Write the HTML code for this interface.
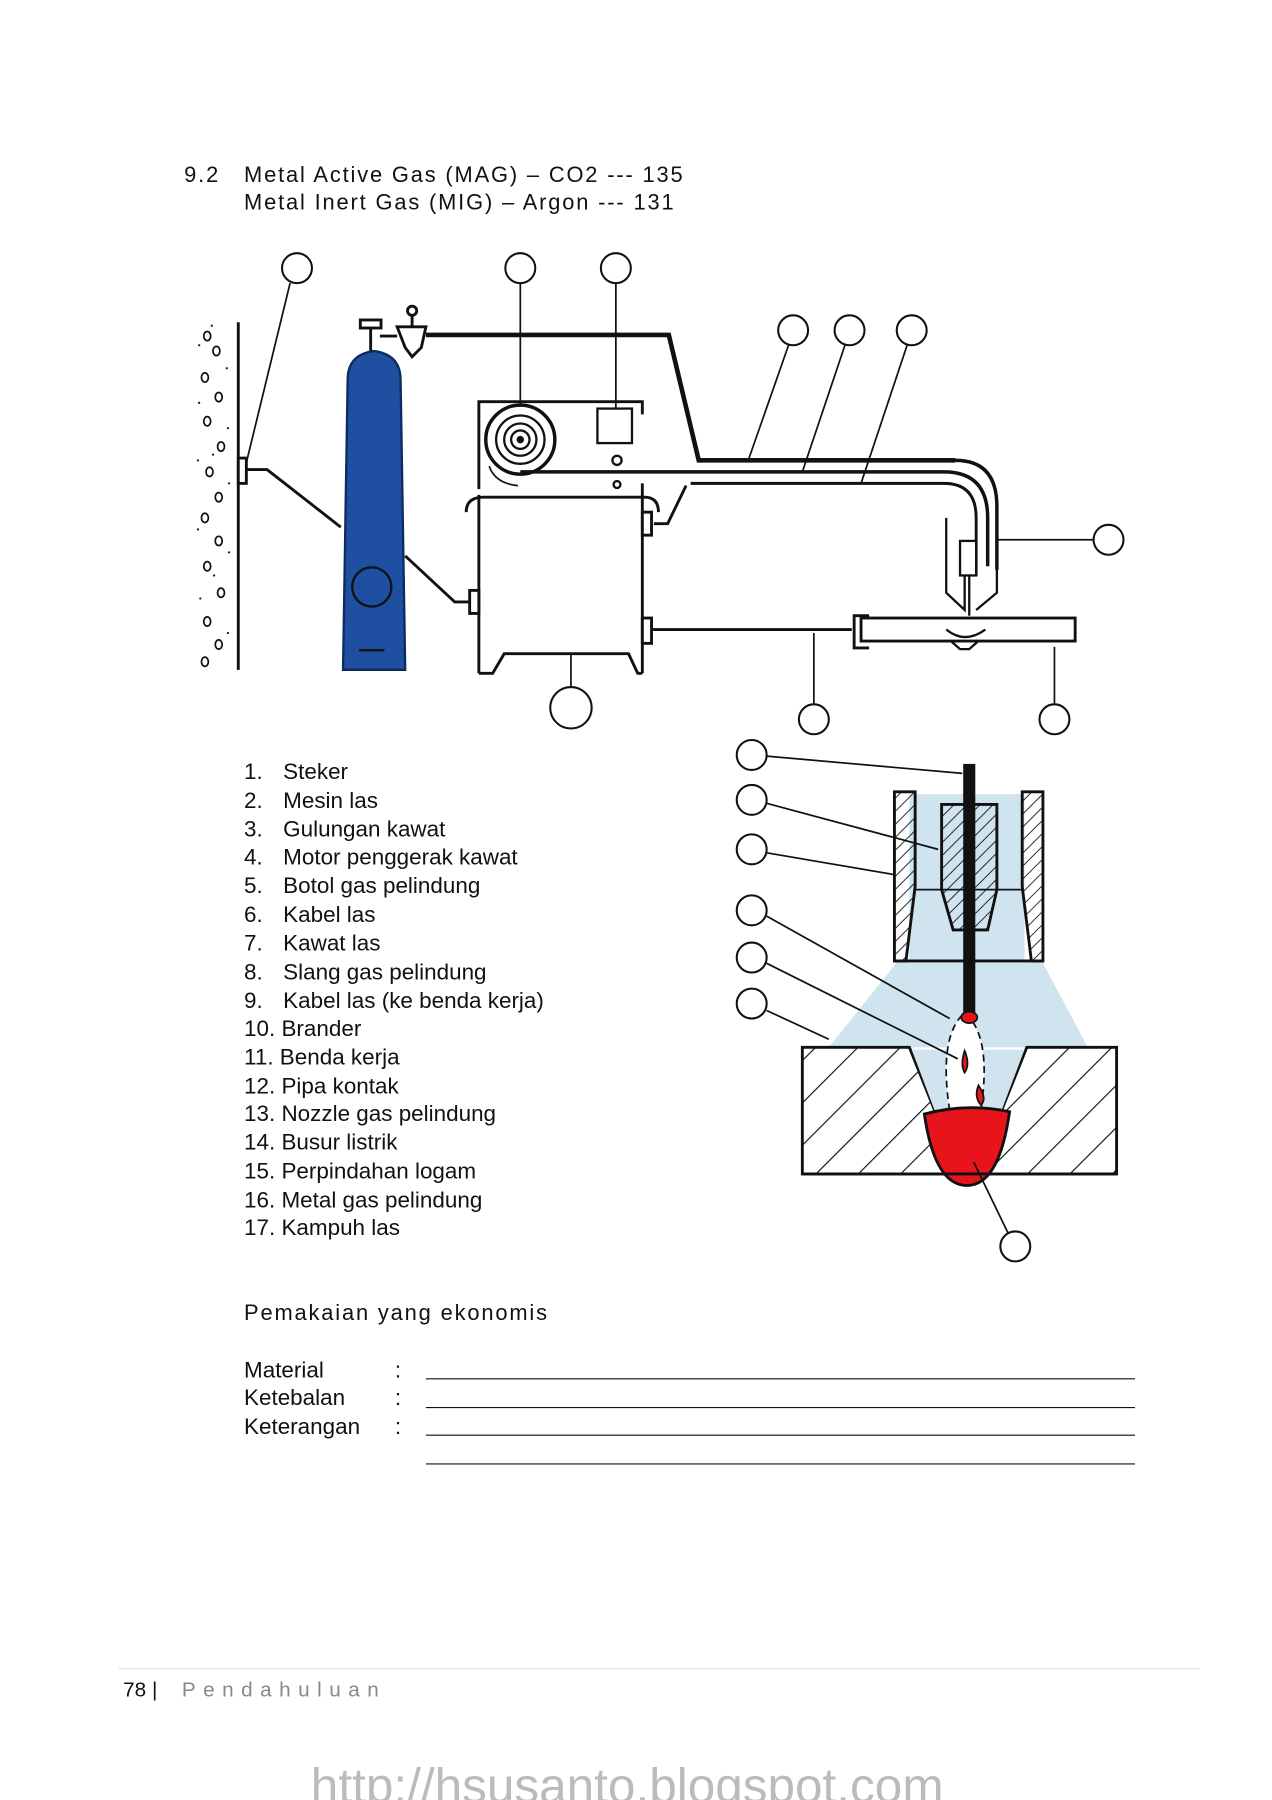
<!DOCTYPE html>
<html><head><meta charset="utf-8"><style>
html,body{margin:0;padding:0;background:#fff;}
svg{display:block;}
text{font-family:"Liberation Sans",sans-serif;fill:#111;}
</style></head><body>
<svg width="1272" height="1800" viewBox="0 0 1105 1564" preserveAspectRatio="none" xmlns="http://www.w3.org/2000/svg">
<defs>
<pattern id="h2" width="8" height="8" patternUnits="userSpaceOnUse" patternTransform="rotate(45)"><line x1="0" y1="0" x2="0" y2="8" stroke="#111" stroke-width="1.5"/></pattern>
<pattern id="h3" width="26" height="26" patternUnits="userSpaceOnUse" patternTransform="rotate(45)"><line x1="0" y1="0" x2="0" y2="26" stroke="#111" stroke-width="2"/></pattern>
</defs>

<text x="160" y="158" font-size="19" letter-spacing="1.6">9.2</text>
<text x="212" y="158" font-size="19" letter-spacing="1.6">Metal Active Gas (MAG) – CO2 --- 135</text>
<text x="212" y="182" font-size="19" letter-spacing="1.6">Metal Inert Gas (MIG) – Argon --- 131</text>

<g stroke="#111" fill="none" stroke-width="2.5">
<line x1="207" y1="280" x2="207" y2="582"/>
<g stroke-width="1.5">
<ellipse cx="180" cy="292" rx="3" ry="4"/><ellipse cx="188" cy="305" rx="3" ry="4"/><ellipse cx="178" cy="328" rx="3" ry="4"/><ellipse cx="190" cy="345" rx="3" ry="4"/><ellipse cx="180" cy="366" rx="3" ry="4"/><ellipse cx="192" cy="388" rx="3" ry="4"/><ellipse cx="182" cy="410" rx="3" ry="4"/><ellipse cx="190" cy="432" rx="3" ry="4"/><ellipse cx="178" cy="450" rx="3" ry="4"/><ellipse cx="190" cy="470" rx="3" ry="4"/><ellipse cx="180" cy="492" rx="3" ry="4"/><ellipse cx="192" cy="515" rx="3" ry="4"/><ellipse cx="180" cy="540" rx="3" ry="4"/><ellipse cx="190" cy="560" rx="3" ry="4"/><ellipse cx="178" cy="575" rx="3" ry="4"/>
</g>
<g fill="#222" stroke="none">
<circle cx="173" cy="300" r="1"/><circle cx="197" cy="320" r="1"/><circle cx="173" cy="350" r="1"/><circle cx="198" cy="372" r="1"/><circle cx="172" cy="400" r="1"/><circle cx="199" cy="420" r="1"/><circle cx="172" cy="460" r="1"/><circle cx="199" cy="480" r="1"/><circle cx="174" cy="520" r="1"/><circle cx="198" cy="550" r="1"/><circle cx="185" cy="395" r="1"/><circle cx="186" cy="500" r="1"/><circle cx="184" cy="283" r="1"/>
</g>
<rect x="207" y="398" width="7" height="22" fill="#fff"/>
<polyline points="214,408 232,408 296,458"/>
<path d="M298,582 L302,330 Q302,308 325,305 Q348,308 348,330 L352,582 Z" fill="#1f4fa0" stroke="#0d2a60" stroke-width="2"/>
<circle cx="323" cy="510" r="17" stroke="#111" stroke-width="2"/>
<line x1="312" y1="565" x2="334" y2="565" stroke-width="2"/>
<rect x="313" y="278" width="18" height="7" fill="#fff"/>
<line x1="322" y1="285" x2="322" y2="305"/>
<line x1="330" y1="292" x2="345" y2="292"/>
<path d="M345,284 L370,284 L366,302 L358,310 L352,302 Z" fill="#fff"/>
<circle cx="358" cy="270" r="4"/><line x1="358" y1="274" x2="358" y2="284"/>
<polyline points="370,291 581,291 607,400 830,400" stroke-width="4"/>
<polyline points="416,425 416,349 558,349 558,360"/>
<line x1="416" y1="430" x2="416" y2="585"/>
<line x1="558" y1="420" x2="558" y2="585"/>
<path d="M405,445 Q405,432 420,432 L560,432 Q572,432 572,445"/>
<polyline points="416,585 428,585 438,568 546,568 554,585 558,585"/>
<circle cx="452" cy="382" r="30" stroke-width="3"/>
<circle cx="452" cy="382" r="21" stroke-width="2"/>
<circle cx="452" cy="382" r="14" stroke-width="2"/>
<circle cx="452" cy="382" r="8" stroke-width="2"/>
<circle cx="452" cy="382" r="2" fill="#111"/>
<path d="M425,405 Q430,420 450,422" stroke-width="1.5"/>
<rect x="519" y="355" width="30" height="30" stroke-width="2"/>
<circle cx="536" cy="400" r="4" stroke-width="2"/>
<circle cx="536" cy="421" r="3" stroke-width="2"/>
<path d="M452,410 L820,410 Q858,410 858,450 L858,492" stroke-width="3"/>
<path d="M600,420 L820,420 Q848,420 848,450 L848,500" stroke-width="2.5"/>
<path d="M596,422 L580,455 L568,455" stroke-width="2.5"/>
<path d="M830,400 Q866,400 866,440 L866,495" stroke-width="3"/>
<rect x="558" y="445" width="8" height="20" fill="#fff"/>
<path d="M822,450 L822,515 L838,530 L838,488 M866,450 L866,515 L848,530" stroke-width="2"/>
<line x1="842" y1="500" x2="842" y2="535" stroke-width="2"/>
<rect x="834" y="470" width="14" height="30" fill="#fff" stroke-width="2"/>
<polyline points="352,483 395,523 410,523"/>
<rect x="408" y="513" width="8" height="20" fill="#fff"/>
<rect x="558" y="537" width="8" height="22" fill="#fff"/>
<line x1="566" y1="547" x2="740" y2="547"/>
<path d="M755,535 L742,535 L742,563 L755,563"/>
<rect x="748" y="537" width="186" height="20" fill="#fff"/>
<path d="M822,547 Q838,560 856,547" stroke-width="2"/>
<path d="M826,557 L834,564 L842,564 L850,557" stroke-width="2"/>
<g stroke-width="1.5">
<line x1="252" y1="246" x2="214" y2="402"/>
<line x1="452" y1="246" x2="452" y2="352"/>
<line x1="535" y1="246" x2="535" y2="355"/>
<line x1="685" y1="300" x2="650" y2="400"/>
<line x1="734" y1="300" x2="697" y2="410"/>
<line x1="788" y1="300" x2="748" y2="420"/>
<line x1="866" y1="469" x2="950" y2="469"/>
<line x1="496" y1="568" x2="496" y2="597"/>
<line x1="707" y1="550" x2="707" y2="612"/>
<line x1="916" y1="562" x2="916" y2="612"/>
</g>
<g stroke-width="1.8" fill="#fff">
<circle cx="258" cy="233" r="13"/><circle cx="452" cy="233" r="13"/><circle cx="535" cy="233" r="13"/>
<circle cx="689" cy="287" r="13"/><circle cx="738" cy="287" r="13"/><circle cx="792" cy="287" r="13"/>
<circle cx="963" cy="469" r="13"/><circle cx="496" cy="615" r="18"/>
<circle cx="707" cy="625" r="13"/><circle cx="916" cy="625" r="13"/>
</g>
</g>

<g font-size="19.5">
<text x="212" y="677">1.</text><text x="246" y="677">Steker</text>
<text x="212" y="702">2.</text><text x="246" y="702">Mesin las</text>
<text x="212" y="727">3.</text><text x="246" y="727">Gulungan kawat</text>
<text x="212" y="751">4.</text><text x="246" y="751">Motor penggerak kawat</text>
<text x="212" y="776">5.</text><text x="246" y="776">Botol gas pelindung</text>
<text x="212" y="801">6.</text><text x="246" y="801">Kabel las</text>
<text x="212" y="826">7.</text><text x="246" y="826">Kawat las</text>
<text x="212" y="851">8.</text><text x="246" y="851">Slang gas pelindung</text>
<text x="212" y="876">9.</text><text x="246" y="876">Kabel las (ke benda kerja)</text>
<text x="212" y="900">10. Brander</text>
<text x="212" y="925">11. Benda kerja</text>
<text x="212" y="950">12. Pipa kontak</text>
<text x="212" y="974">13. Nozzle gas pelindung</text>
<text x="212" y="999">14. Busur listrik</text>
<text x="212" y="1024">15. Perpindahan logam</text>
<text x="212" y="1049">16. Metal gas pelindung</text>
<text x="212" y="1073">17. Kampuh las</text>
</g>

<g stroke="#111" stroke-width="2.5">
<path d="M780,835 L905,835 L945,910 L720,910 Z" fill="#cfe4ee" stroke="none"/>
<rect x="790" y="690" width="100" height="145" fill="#cfe4ee" stroke="none"/>
<path d="M777,688 L795,688 L795,770 L787,835 L777,835 Z" fill="url(#h2)"/>
<path d="M906,688 L888,688 L888,770 L896,835 L906,835 Z" fill="url(#h2)"/>
<line x1="795" y1="773" x2="888" y2="773" stroke-width="1.5"/>
<line x1="777" y1="835" x2="906" y2="835"/>
<path d="M818,699 L866,699 L866,773 L858,808 L828,808 L818,773 Z" fill="url(#h2)"/>
<path d="M697,910 L790,910 L812,965 L840,1020 L697,1020 Z" fill="url(#h3)"/>
<path d="M970,910 L892,910 L870,965 L840,1020 L970,1020 Z" fill="url(#h3)"/>
<path d="M792,912 L812,965 L870,965 L890,912 Z" fill="#cfe4ee" stroke="none"/>
<path d="M825,965 Q815,900 838,880 Q862,900 852,965 Z" fill="#fff" stroke-dasharray="6,4" stroke-width="1.5"/>
<path d="M803,968 Q840,958 877,966 Q868,1030 840,1030 Q812,1030 803,968 Z" fill="#e8141b"/>
<line x1="697" y1="1020" x2="970" y2="1020"/>
<rect x="838" y="665" width="8" height="215" fill="#111"/>
<ellipse cx="842" cy="884" rx="7" ry="5" fill="#e8141b" stroke-width="1.5"/>
<path d="M838,913 Q834,925 838,932 Q843,925 838,913 Z" fill="#e8141b" stroke-width="1.5"/>
<path d="M850,943 Q846,953 852,960 Q858,955 850,943 Z" fill="#e8141b" stroke-width="1.5"/>
<g stroke-width="1.5" fill="none">
<line x1="666" y1="657" x2="836" y2="672"/>
<line x1="666" y1="698" x2="815" y2="738"/>
<line x1="666" y1="741" x2="777" y2="760"/>
<line x1="666" y1="796" x2="825" y2="885"/>
<line x1="666" y1="837" x2="832" y2="920"/>
<line x1="666" y1="878" x2="720" y2="903"/>
<line x1="846" y1="1010" x2="876" y2="1072"/>
</g>
<g stroke-width="1.8" fill="#fff">
<circle cx="653" cy="656" r="13"/><circle cx="653" cy="695" r="13"/><circle cx="653" cy="738" r="13"/>
<circle cx="653" cy="791" r="13"/><circle cx="653" cy="832" r="13"/><circle cx="653" cy="872" r="13"/>
<circle cx="882" cy="1083" r="13"/>
</g>
</g>

<text x="212" y="1147" font-size="19" letter-spacing="1.6">Pemakaian yang ekonomis</text>
<g font-size="19.5">
<text x="212" y="1197">Material</text><text x="343" y="1197">:</text>
<text x="212" y="1221">Ketebalan</text><text x="343" y="1221">:</text>
<text x="212" y="1246">Keterangan</text><text x="343" y="1246">:</text>
</g>
<g stroke="#111" stroke-width="1">
<line x1="370" y1="1198" x2="986" y2="1198"/>
<line x1="370" y1="1223" x2="986" y2="1223"/>
<line x1="370" y1="1247" x2="986" y2="1247"/>
<line x1="370" y1="1272" x2="986" y2="1272"/>
</g>

<line x1="103" y1="1450" x2="1042" y2="1450" stroke="#ddd" stroke-width="1"/>
<text x="107" y="1474" font-size="18">78 |</text>
<text x="158" y="1474" font-size="18" letter-spacing="6.5" style="fill:#888">Pendahuluan</text>
<text x="270" y="1566" font-size="43" style="fill:#bbb">http://hsusanto.blogspot.com</text>
</svg>
</body></html>
